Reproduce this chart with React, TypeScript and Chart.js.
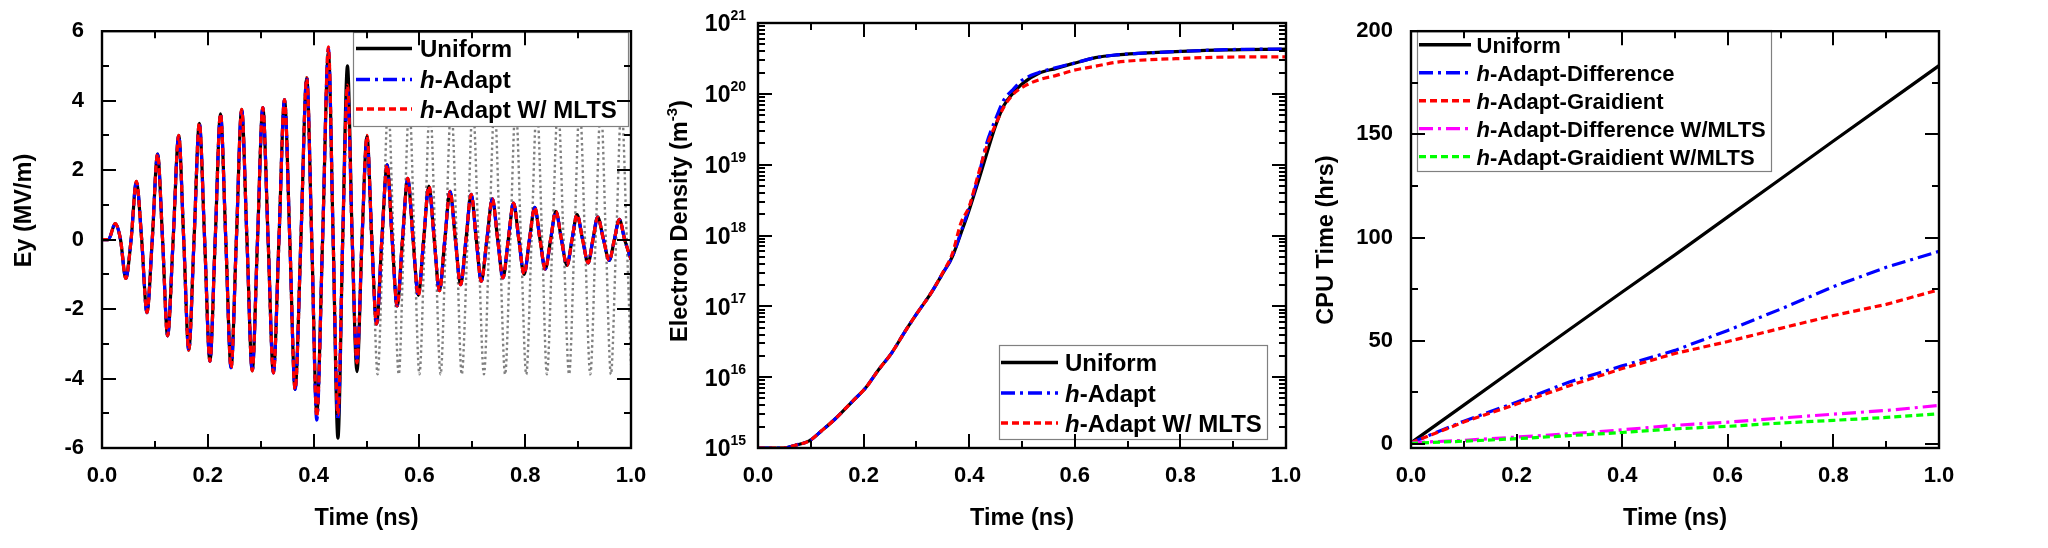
import React, { useEffect, useRef } from "react";
import { Chart, registerables } from "chart.js";
Chart.register(...registerables);

const FONT = "'Liberation Sans', Arial, Helvetica, sans-serif";

// ---------------- shared time axis ----------------
const timeTicks = [0, 0.2, 0.4, 0.6, 0.8, 1.0];
const timeMinor = [0.1, 0.3, 0.5, 0.7, 0.9];

// ---------------- Panel 1 : Ey (MV/m) ----------------
const eyTime = [
  0, 0.012, 0.025, 0.035, 0.045, 0.055, 0.065, 0.075, 0.085, 0.095,
  0.105, 0.1145, 0.124, 0.1345, 0.145, 0.1545, 0.164, 0.174, 0.184, 0.194,
  0.204, 0.214, 0.224, 0.234, 0.244, 0.254, 0.264, 0.274, 0.284, 0.294,
  0.304, 0.314, 0.324, 0.3345, 0.345, 0.355, 0.365, 0.376, 0.387, 0.3965,
  0.406, 0.417, 0.428, 0.437, 0.446, 0.455, 0.464, 0.473, 0.482, 0.4915,
  0.501, 0.51, 0.519, 0.529, 0.539, 0.5485, 0.558, 0.568, 0.578, 0.588,
  0.598, 0.608, 0.618, 0.628, 0.638, 0.648, 0.658, 0.668, 0.678, 0.688,
  0.698, 0.7075, 0.717, 0.7275, 0.738, 0.748, 0.758, 0.768, 0.778, 0.788,
  0.798, 0.808, 0.818, 0.828, 0.838, 0.848, 0.858, 0.8685, 0.879, 0.8885,
  0.898, 0.9085, 0.919, 0.928, 0.937, 0.948, 0.959, 0.9685, 0.978, 0.988,
  1.0,
];
const eyUniform = [
  0, 0, 0.46, 0, -1.12, 0, 1.68, 0, -2.1, 0,
  2.46, 0, -2.77, 0, 3.0, 0, -3.18, 0, 3.35, 0,
  -3.5, 0, 3.62, 0, -3.69, 0, 3.75, 0, -3.78, 0,
  3.8, 0, -3.84, 0, 4.03, 0, -4.31, 0, 4.66, 0,
  -4.98, 0, 5.38, 0, -5.72, 0, 5.0, 0, -3.8, 0,
  2.97, 0, -2.43, 0, 2.15, 0, -1.91, 0, 1.76, 0,
  -1.61, 0, 1.54, 0, -1.47, 0, 1.39, 0, -1.3, 0,
  1.3, 0, -1.2, 0, 1.17, 0, -1.1, 0, 1.05, 0,
  -1.0, 0, 0.93, 0, -0.85, 0, 0.81, 0, -0.74, 0,
  0.72, 0, -0.67, 0, 0.65, 0, -0.6, 0, 0.58, 0,
  -0.57,
];
const eyAdapt = [
  0, 0, 0.46, 0, -1.12, 0, 1.68, 0, -2.1, 0,
  2.46, 0, -2.77, 0, 3.0, 0, -3.18, 0, 3.35, 0,
  -3.5, 0, 3.62, 0, -3.69, 0, 3.75, 0, -3.78, 0,
  3.8, 0, -3.84, 0, 4.03, 0, -4.31, 0, 4.66, 0,
  -5.2, 0, 5.5, 0, -5.2, 0, 4.35, 0, -3.45, 0,
  2.9, 0, -2.43, 0, 2.15, 0, -1.91, 0, 1.76, 0,
  -1.61, 0, 1.54, 0, -1.47, 0, 1.39, 0, -1.3, 0,
  1.3, 0, -1.2, 0, 1.17, 0, -1.1, 0, 1.05, 0,
  -1.0, 0, 0.93, 0, -0.85, 0, 0.81, 0, -0.74, 0,
  0.72, 0, -0.67, 0, 0.65, 0, -0.6, 0, 0.58, 0,
  -0.57,
];
const eyAdaptMLTS = [
  0, 0, 0.46, 0, -1.12, 0, 1.68, 0, -2.1, 0,
  2.46, 0, -2.77, 0, 3.0, 0, -3.18, 0, 3.35, 0,
  -3.5, 0, 3.62, 0, -3.69, 0, 3.75, 0, -3.78, 0,
  3.8, 0, -3.84, 0, 4.03, 0, -4.31, 0, 4.66, 0,
  -5.1, 0, 5.55, 0, -5.05, 0, 4.45, 0, -3.55, 0,
  3.0, 0, -2.43, 0, 2.15, 0, -1.91, 0, 1.76, 0,
  -1.61, 0, 1.54, 0, -1.47, 0, 1.39, 0, -1.3, 0,
  1.3, 0, -1.2, 0, 1.17, 0, -1.1, 0, 1.05, 0,
  -1.0, 0, 0.93, 0, -0.85, 0, 0.81, 0, -0.74, 0,
  0.72, 0, -0.67, 0, 0.65, 0, -0.6, 0, 0.58, 0,
  -0.57,
];
const eyIncidentTime = [
  0.501, 0.511, 0.521, 0.531, 0.541, 0.551, 0.561, 0.5705, 0.581, 0.5905,
  0.6, 0.61, 0.62, 0.63, 0.64, 0.65, 0.66, 0.6705, 0.68, 0.691,
  0.701, 0.7115, 0.722, 0.732, 0.742, 0.752, 0.762, 0.772, 0.782, 0.792,
  0.802, 0.812, 0.822, 0.832, 0.841, 0.8515, 0.862, 0.8725, 0.883, 0.893,
  0.903, 0.913, 0.923, 0.933, 0.943, 0.9525, 0.962, 0.972, 0.982, 0.992,
  1.0,
];
const eyIncident = [
  2.97, 0, -3.88, 0, 3.9, 0, -3.88, 0, 3.9, 0,
  -3.88, 0, 3.9, 0, -3.88, 0, 3.9, 0, -3.88, 0,
  3.9, 0, -3.88, 0, 3.9, 0, -3.88, 0, 3.9, 0,
  -3.88, 0, 3.9, 0, -3.88, 0, 3.9, 0, -3.88, 0,
  3.9, 0, -3.88, 0, 3.9, 0, -3.88, 0, 3.9, 0,
  -3.6,
];
const eyYTicks = [-6, -4, -2, 0, 2, 4, 6];
const eyYMinor = [-5, -3, -1, 1, 3, 5];

// ---------------- Panel 2 : Electron density ----------------
const neTime = [
  0, 0.048, 0.072, 0.097, 0.12, 0.146, 0.179, 0.204, 0.228, 0.253,
  0.278, 0.302, 0.327, 0.351, 0.368, 0.384, 0.4, 0.417, 0.433, 0.45,
  0.466, 0.483, 0.5, 0.532, 0.565, 0.598, 0.639, 0.68, 0.72, 0.803,
  0.885, 1.0,
];
const neUniform = [
  1e15, 1.0e15, 1.1e15, 1.26e15, 1.74e15, 2.57e15, 4.57e15, 7.08e15, 1.26e16, 2.19e16,
  4.37e16, 8.13e16, 1.51e17, 3.02e17, 5.01e17, 1.05e18, 2.29e18, 5.75e18, 1.41e19, 3.55e19,
  6.92e19, 1.02e20, 1.38e20, 1.95e20, 2.29e20, 2.69e20, 3.24e20, 3.55e20, 3.72e20, 3.98e20,
  4.17e20, 4.27e20,
];
const neAdapt = [
  1e15, 1.0e15, 1.1e15, 1.26e15, 1.74e15, 2.57e15, 4.57e15, 7.08e15, 1.26e16, 2.19e16,
  4.37e16, 8.13e16, 1.51e17, 3.02e17, 5.01e17, 1.1e18, 2.5e18, 6.6e18, 2.0e19, 4.4e19,
  8.3e19, 1.15e20, 1.55e20, 2.0e20, 2.35e20, 2.7e20, 3.24e20, 3.55e20, 3.72e20, 3.98e20,
  4.2e20, 4.3e20,
];
const neAdaptMLTS = [
  1e15, 1.0e15, 1.1e15, 1.26e15, 1.74e15, 2.57e15, 4.57e15, 7.08e15, 1.26e16, 2.19e16,
  4.37e16, 8.13e16, 1.51e17, 3.1e17, 5.5e17, 1.48e18, 2.57e18, 7.2e18, 1.78e19, 3.7e19,
  6.6e19, 9.8e19, 1.23e20, 1.58e20, 1.82e20, 2.15e20, 2.45e20, 2.8e20, 2.97e20, 3.16e20,
  3.3e20, 3.33e20,
];
const neYTicks = [1e15, 1e16, 1e17, 1e18, 1e19, 1e20, 1e21];
const neYMinor: number[] = [];
for (let d = 15; d < 21; d++) for (let m = 2; m <= 9; m++) neYMinor.push(m * Math.pow(10, d));

// ---------------- Panel 3 : CPU time ----------------
const cpuTime = [0, 0.1, 0.2, 0.3, 0.4, 0.5, 0.6, 0.7, 0.8, 0.9, 1.0];
const cpuUniform = [0.5, 18.8, 37.1, 55.4, 73.6, 91.6, 110.0, 128.4, 146.8, 165.0, 183.3];
const cpuDiff = [0.5, 11.0, 20.2, 30.0, 37.8, 45.3, 55.0, 65.3, 76.2, 85.6, 93.3];
const cpuGrad = [0.5, 10.6, 19.3, 28.2, 36.5, 43.8, 49.6, 56.0, 62.2, 67.6, 74.7];
const cpuDiffMLTS = [0.6, 1.7, 3.3, 4.9, 6.8, 9.0, 10.5, 12.5, 14.4, 16.2, 18.6];
const cpuGradMLTS = [0.3, 1.3, 2.5, 4.0, 5.5, 7.3, 8.5, 10.1, 11.4, 12.8, 14.6];
const cpuYTicks = [0, 50, 100, 150, 200];
const cpuYMinor = [25, 75, 125, 175];

// ---------------- styles ----------------
const DASH_DOT = [14, 5, 3, 5];
const DASHED = [7, 4];
const DOTTED = [2.5, 3];

function series(xs: number[], ys: number[], label: string, color: string, dash: number[], order: number, smooth: boolean) {
  return {
    label,
    data: xs.map((x, i) => ({ x, y: ys[i] })),
    borderColor: color,
    backgroundColor: color,
    borderDash: dash,
    borderWidth: label === "" ? 2.4 : 3.2,
    borderJoinStyle: "round",
    pointRadius: 0,
    fill: false,
    order,
    tension: 0,
    cubicInterpolationMode: smooth ? "monotone" : "default",
  };
}

type TitlePart = { text: string; sup?: boolean };
type PanelSpec = {
  key: string;
  left: number;
  width: number;
  plotLeft: number;
  plotRight: number;
  datasets: any[];
  yType: "linear" | "logarithmic";
  yMin: number;
  yMax: number;
  yTicks: number[];
  yMinor: number[];
  yTickPad: number;
  logLabels?: boolean;
  yTitle: { parts: TitlePart[]; cx: number; cy: number };
  legend: { box: [number, number, number, number]; rows: number[]; x0: number; x1: number; tx: number; size: number };
};

function drawLabel(ctx: CanvasRenderingContext2D, label: string, x: number, y: number, size: number) {
  ctx.fillStyle = "#000";
  ctx.textAlign = "left";
  ctx.textBaseline = "alphabetic";
  if (label.startsWith("h-")) {
    ctx.font = `italic bold ${size}px ${FONT}`;
    ctx.fillText("h", x, y);
    const w = ctx.measureText("h").width;
    ctx.font = `bold ${size}px ${FONT}`;
    ctx.fillText(label.slice(1), x + w, y);
  } else {
    ctx.font = `bold ${size}px ${FONT}`;
    ctx.fillText(label, x, y);
  }
}

function decorPlugin(spec: PanelSpec) {
  const off = spec.left;
  return {
    id: "decor",
    afterDatasetsDraw(chart: any) {
      const ctx: CanvasRenderingContext2D = chart.ctx;
      const L = spec.legend;
      ctx.save();
      const [bx0, by0, bx1, by1] = L.box;
      ctx.fillStyle = "#fff";
      ctx.fillRect(bx0 - off, by0, bx1 - bx0, by1 - by0);
      ctx.strokeStyle = "#808080";
      ctx.lineWidth = 1.2;
      ctx.strokeRect(bx0 - off + 0.5, by0 + 0.5, bx1 - bx0, by1 - by0);
      const items = spec.datasets.filter((d) => d.label !== "");
      items.forEach((it, i) => {
        const y = L.rows[i];
        ctx.beginPath();
        ctx.setLineDash(it.borderDash);
        ctx.strokeStyle = it.borderColor;
        ctx.lineWidth = 3.4;
        ctx.moveTo(L.x0 - off, y);
        ctx.lineTo(L.x1 - off, y);
        ctx.stroke();
        ctx.setLineDash([]);
        drawLabel(ctx, it.label, L.tx - off, y + L.size * 0.36, L.size);
      });
      ctx.restore();
    },
    afterDraw(chart: any) {
      const ctx: CanvasRenderingContext2D = chart.ctx;
      const { left, right, top, bottom } = chart.chartArea;
      const xs = chart.scales.x;
      const ys = chart.scales.y;
      ctx.save();
      ctx.strokeStyle = "#000";
      ctx.lineWidth = 2;
      ctx.setLineDash([]);
      ctx.beginPath();
      const xt: [number[], number][] = [[timeTicks, 14], [timeMinor, 7]];
      for (const [vals, len] of xt) {
        for (const v of vals) {
          const p = Math.round(xs.getPixelForValue(v));
          ctx.moveTo(p, bottom);
          ctx.lineTo(p, bottom - len);
          ctx.moveTo(p, top);
          ctx.lineTo(p, top + len);
        }
      }
      const yt: [number[], number][] = [[spec.yTicks, 14], [spec.yMinor, 7]];
      for (const [vals, len] of yt) {
        for (const v of vals) {
          const p = Math.round(ys.getPixelForValue(v));
          ctx.moveTo(left, p);
          ctx.lineTo(left + len, p);
          ctx.moveTo(right, p);
          ctx.lineTo(right - len, p);
        }
      }
      ctx.stroke();
      ctx.lineWidth = 2.4;
      ctx.strokeRect(left, top, right - left, bottom - top);

      // log tick labels with superscript exponents
      if (spec.logLabels) {
        ctx.fillStyle = "#000";
        ctx.textBaseline = "middle";
        ctx.textAlign = "right";
        for (const v of spec.yTicks) {
          const p = ys.getPixelForValue(v);
          const e = String(Math.round(Math.log10(v)));
          ctx.font = `bold 14px ${FONT}`;
          const ew = ctx.measureText(e).width;
          ctx.fillText(e, left - 12, p - 7);
          ctx.font = `bold 23px ${FONT}`;
          ctx.fillText("10", left - 12 - ew, p + 2);
        }
      }

      // y axis title
      const T = spec.yTitle;
      ctx.translate(T.cx - off, T.cy);
      ctx.rotate(-Math.PI / 2);
      ctx.fillStyle = "#000";
      ctx.textBaseline = "middle";
      ctx.textAlign = "left";
      const fontOf = (p: TitlePart) => (p.sup ? `bold 15px ${FONT}` : `bold 23.5px ${FONT}`);
      let total = 0;
      for (const p of T.parts) {
        ctx.font = fontOf(p);
        total += ctx.measureText(p.text).width;
      }
      let x = -total / 2;
      for (const p of T.parts) {
        ctx.font = fontOf(p);
        ctx.fillText(p.text, x, p.sup ? -8 : 0);
        x += ctx.measureText(p.text).width;
      }
      ctx.restore();
    },
  };
}

function buildConfig(spec: PanelSpec): any {
  const tickFont = { family: FONT, size: 22, weight: "bold" };
  const titleFont = { family: FONT, size: 23.5, weight: "bold" };
  const yWidth = spec.plotLeft - spec.left;
  return {
    type: "line",
    data: { datasets: spec.datasets },
    options: {
      responsive: false,
      animation: false,
      devicePixelRatio: 1,
      events: [],
      layout: { padding: { left: 0, top: 23, right: spec.left + spec.width - spec.plotRight, bottom: 0 } },
      plugins: { legend: { display: false }, tooltip: { enabled: false }, title: { display: false } },
      scales: {
        x: {
          type: "linear",
          min: 0,
          max: 1,
          afterBuildTicks: (s: any) => {
            s.ticks = timeTicks.map((v) => ({ value: v }));
          },
          afterFit: (s: any) => {
            s.height = 100;
          },
          grid: { display: false, drawTicks: false, tickLength: 0 },
          border: { display: false },
          ticks: {
            font: tickFont,
            color: "#000",
            padding: 15,
            maxRotation: 0,
            autoSkip: false,
            callback: (v: any) => Number(v).toFixed(1),
          },
          title: { display: true, text: "Time (ns)", font: titleFont, color: "#000", padding: { top: 0, bottom: 15 } },
        },
        y: {
          type: spec.yType,
          min: spec.yMin,
          max: spec.yMax,
          afterBuildTicks: (s: any) => {
            s.ticks = spec.yTicks.map((v) => ({ value: v }));
          },
          afterFit: (s: any) => {
            s.width = yWidth;
          },
          grid: { display: false, drawTicks: false, tickLength: 0 },
          border: { display: false },
          ticks: {
            display: !spec.logLabels,
            font: tickFont,
            color: "#000",
            padding: spec.yTickPad,
            autoSkip: false,
            callback: (v: any) => String(v),
          },
        },
      },
    },
    plugins: [decorPlugin(spec)],
  };
}

const panels: PanelSpec[] = [
  {
    key: "ey",
    left: 0,
    width: 700,
    plotLeft: 102,
    plotRight: 631,
    datasets: [
      series(eyTime, eyUniform, "Uniform", "#000000", [], 2, true),
      series(eyTime, eyAdapt, "h-Adapt", "#0000ff", DASH_DOT, 1, true),
      series(eyTime, eyAdaptMLTS, "h-Adapt W/ MLTS", "#ff0000", DASHED, 0, true),
      series(eyIncidentTime, eyIncident, "", "#808080", DOTTED, 3, true),
    ],
    yType: "linear",
    yMin: -6,
    yMax: 6,
    yTicks: eyYTicks,
    yMinor: eyYMinor,
    yTickPad: 18,
    yTitle: { parts: [{ text: "Ey (MV/m)" }], cx: 25, cy: 210.5 },
    legend: { box: [353, 32, 628, 126], rows: [48.5, 79.5, 109], x0: 356, x1: 412, tx: 420, size: 24 },
  },
  {
    key: "ne",
    left: 640,
    width: 700,
    plotLeft: 758,
    plotRight: 1286,
    datasets: [
      series(neTime, neUniform, "Uniform", "#000000", [], 2, true),
      series(neTime, neAdapt, "h-Adapt", "#0000ff", DASH_DOT, 1, true),
      series(neTime, neAdaptMLTS, "h-Adapt W/ MLTS", "#ff0000", DASHED, 0, true),
    ],
    yType: "logarithmic",
    yMin: 1e15,
    yMax: 1e21,
    yTicks: neYTicks,
    yMinor: neYMinor,
    yTickPad: 12,
    logLabels: true,
    yTitle: { parts: [{ text: "Electron Density (m" }, { text: "-3", sup: true }, { text: ")" }], cx: 681, cy: 221 },
    legend: { box: [999, 345, 1267, 439], rows: [362.5, 393, 423], x0: 1001, x1: 1058, tx: 1065, size: 24 },
  },
  {
    key: "cpu",
    left: 1290,
    width: 758,
    plotLeft: 1411,
    plotRight: 1939,
    datasets: [
      series(cpuTime, cpuUniform, "Uniform", "#000000", [], 4, false),
      series(cpuTime, cpuDiff, "h-Adapt-Difference", "#0000ff", DASH_DOT, 3, false),
      series(cpuTime, cpuGrad, "h-Adapt-Graidient", "#ff0000", DASHED, 2, false),
      series(cpuTime, cpuDiffMLTS, "h-Adapt-Difference W/MLTS", "#ff00ff", DASH_DOT, 1, false),
      series(cpuTime, cpuGradMLTS, "h-Adapt-Graidient W/MLTS", "#00ff00", DASHED, 0, false),
    ],
    yType: "linear",
    yMin: -2,
    yMax: 200,
    yTicks: cpuYTicks,
    yMinor: cpuYMinor,
    yTickPad: 18,
    yTitle: { parts: [{ text: "CPU Time (hrs)" }], cx: 1326.5, cy: 240 },
    legend: { box: [1417, 30, 1771, 171], rows: [44.7, 72.7, 100.7, 128.6, 156.6], x0: 1419, x1: 1471, tx: 1476.5, size: 22 },
  },
];

function ChartPanel({ spec }: { spec: PanelSpec }) {
  const ref = useRef<HTMLCanvasElement>(null);
  useEffect(() => {
    const chart = new Chart(ref.current as HTMLCanvasElement, buildConfig(spec));
    return () => chart.destroy();
  }, [spec]);
  return (
    <canvas
      ref={ref}
      width={spec.width}
      height={548}
      style={{ position: "absolute", left: spec.left, top: 0, width: spec.width, height: 548 }}
    />
  );
}

export default function App() {
  useEffect(() => {
    document.body.style.margin = "0";
  }, []);
  return (
    <div style={{ position: "relative", width: 2048, height: 548, background: "#fff", overflow: "hidden" }}>
      {panels.map((p) => (
        <ChartPanel key={p.key} spec={p} />
      ))}
    </div>
  );
}
